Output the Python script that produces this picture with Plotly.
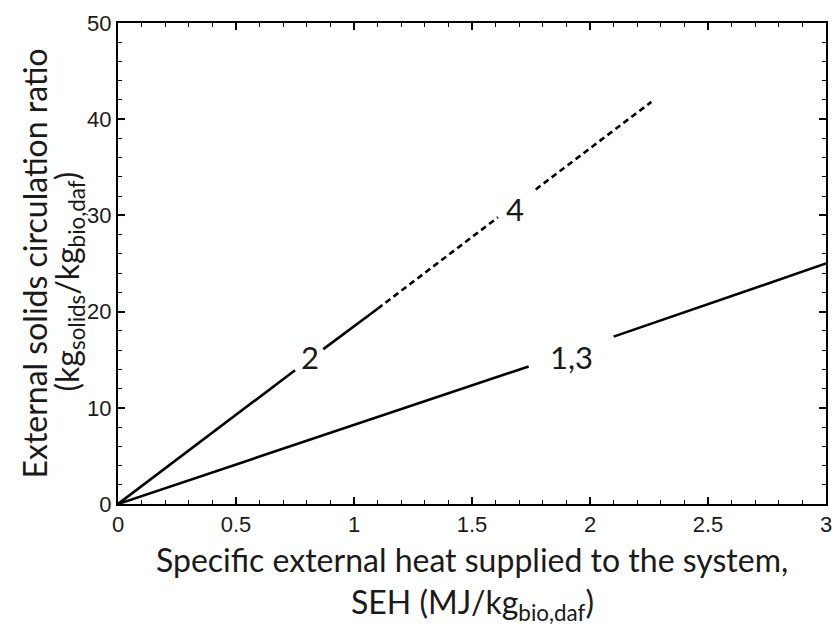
import plotly.graph_objects as go

# Data
# Curve "1,3" (solid), with a gap where the label sits
seh_13 = [0.0, 1.74, None, 2.10, 3.0]
ratio_13 = [0.0, 14.3, None, 17.4, 25.0]

# Curve "2" (solid part), gap around label "2"
seh_2 = [0.0, 0.75, None, 0.87, 1.10]
ratio_2 = [0.0, 13.9, None, 16.1, 20.3]

# Curve "4" (dashed continuation), gap around label "4"
seh_4 = [1.10, 1.61, None, 1.77, 2.26]
ratio_4 = [20.3, 29.8, None, 32.7, 41.8]

label_text = ["2", "4", "1,3"]
label_x = [0.815, 1.683, 1.92]
label_y = [15.3, 30.7, 15.3]

x_ticks = [0, 0.5, 1, 1.5, 2, 2.5, 3]
x_ticktext = ["0", "0.5", "1", "1.5", "2", "2.5", "3"]
y_ticks = [0, 10, 20, 30, 40, 50]

LINE_W = 2.6
fig = go.Figure()
fig.add_trace(go.Scatter(x=seh_13, y=ratio_13, mode="lines",
                         line=dict(color="black", width=LINE_W), connectgaps=False))
fig.add_trace(go.Scatter(x=seh_2, y=ratio_2, mode="lines",
                         line=dict(color="black", width=LINE_W), connectgaps=False))
fig.add_trace(go.Scatter(x=seh_4, y=ratio_4, mode="lines",
                         line=dict(color="black", width=LINE_W, dash="6px,4px"), connectgaps=False))

for t, x, y in zip(label_text, label_x, label_y):
    fig.add_annotation(x=x, y=y, text=t, showarrow=False,
                       font=dict(family="Lato", size=31, color="#1a1a1a"))

title_font = dict(family="Lato", size=32, color="#1a1a1a")
fig.add_annotation(xref="paper", yref="paper", x=0.5, y=0, yanchor="middle",
                   yshift=-55, text="Specific external heat supplied to the system,",
                   showarrow=False, font=title_font)
fig.add_annotation(xref="paper", yref="paper", x=0.5, y=0, yanchor="middle",
                   yshift=-100, text="SEH (MJ/kg<sub>bio,daf</sub>)",
                   showarrow=False, font=title_font)
fig.add_annotation(xref="paper", yref="paper", x=0, y=0.5, xanchor="center",
                   xshift=-84, text="External solids circulation ratio", textangle=-90,
                   showarrow=False, font=title_font)
fig.add_annotation(xref="paper", yref="paper", x=0, y=0.5, xanchor="center",
                   xshift=-50, yshift=-18, text="(kg<sub>solids</sub>/kg<sub>bio,daf</sub>)", textangle=-90,
                   showarrow=False, font=title_font)

axis_common = dict(showline=True, linecolor="black", linewidth=2, mirror="ticks",
                   ticks="inside", ticklen=7, tickwidth=1.5, tickcolor="black",
                   showgrid=False, zeroline=False,
                   tickfont=dict(family="Liberation Sans", size=22, color="#1a1a1a"))
fig.update_xaxes(range=[0, 3], tickvals=x_ticks, ticktext=x_ticktext,
                 minor=dict(dtick=0.1, ticks="inside", ticklen=4, tickwidth=1.2, tickcolor="black", showgrid=False),
                 **axis_common)
fig.update_yaxes(range=[0, 50], tickvals=y_ticks,
                 minor=dict(dtick=2, ticks="inside", ticklen=4, tickwidth=1.2, tickcolor="black", showgrid=False),
                 **axis_common)

fig.update_layout(width=840, height=631, showlegend=False,
                  margin=dict(l=118, r=8, t=23, b=127),
                  plot_bgcolor="white", paper_bgcolor="white")
fig.write_html("out.html")
